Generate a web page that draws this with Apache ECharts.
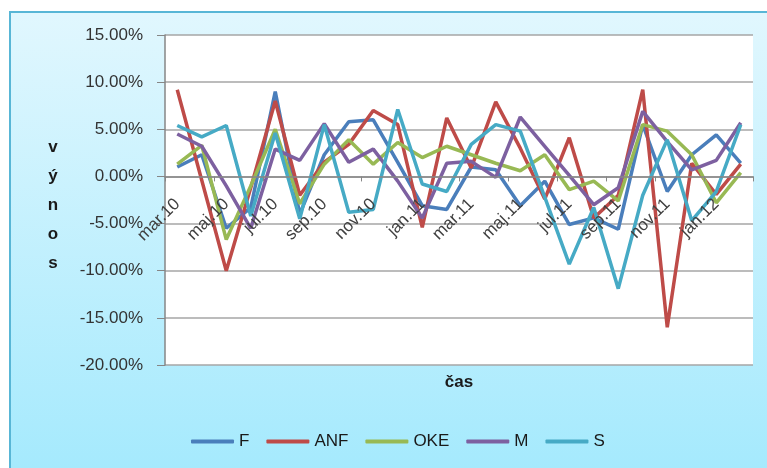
<!DOCTYPE html>
<html>
<head>
<meta charset="utf-8">
<script src="https://cdn.jsdelivr.net/npm/echarts@6/dist/echarts.min.js"></script>
<style>html,body{margin:0;padding:0;background:#fff;}#c{width:767px;height:468px;}</style>
</head>
<body>
<div id="c"></div>
<script>
const categories = ['mar.10','apr.10','maj.10','jún.10','jul.10','aug.10','sep.10','okt.10','nov.10','dec.10','jan.11','feb.11','mar.11','apr.11','maj.11','jún.11','jul.11','aug.11','sep.11','okt.11','nov.11','dec.11','jan.12','feb.12'];
const seriesNames = ['F','ANF','OKE','M','S'];
const F   = [1.0, 2.3, -5.5, -3.3, 9.0, -4.0, 2.3, 5.8, 6.0, 1.5, -3.1, -3.5, 1.0, 0.7, -3.1, -0.5, -5.1, -4.4, -5.6, 5.5, -1.6, 2.3, 4.4, 1.4];
const ANF = [9.2, -0.4, -10.0, -1.2, 8.0, -2.0, 1.5, 3.4, 7.0, 5.5, -5.4, 6.2, 0.9, 7.9, 3.0, -2.4, 4.1, -4.4, -2.0, 9.2, -16.0, 1.4, -1.9, 1.3];
const OKE = [1.3, 3.3, -6.7, -1.0, 5.0, -2.9, 1.3, 3.9, 1.3, 3.6, 2.0, 3.2, 2.3, 1.4, 0.6, 2.3, -1.4, -0.5, -2.6, 5.5, 4.8, 2.3, -2.8, 0.4];
const M   = [4.5, 3.2, -1.0, -5.5, 2.9, 1.7, 5.6, 1.5, 2.9, -0.5, -4.4, 1.4, 1.6, -0.1, 6.3, 3.2, 0.1, -3.0, -1.2, 6.9, 3.7, 0.7, 1.7, 5.7];
const S   = [5.4, 4.2, 5.4, -4.2, 4.6, -4.5, 5.5, -3.8, -3.5, 7.1, -0.8, -1.6, 3.4, 5.5, 4.8, -2.2, -9.3, -3.3, -11.9, -2.0, 3.9, -4.7, -1.6, 5.5];
const colors = ['#4a7ebb','#be4b48','#98b954','#7d60a0','#46aac5'];
const yMin = -20, yMax = 15, yStep = 5;
const yTitle = 'v\ný\nn\no\ns';
const xTitle = 'čas';

const gridTop = 35, gridBottom = 103, chartH = 468;
const plotH = chartH - gridTop - gridBottom;
const zeroOffset = -plotH * (0 - yMin) / (yMax - yMin);

const chart = echarts.init(document.getElementById('c'));
const font = '"Liberation Sans", Arial, sans-serif';
chart.setOption({
  animation: false,
  textStyle: { fontFamily: font },
  color: colors,
  graphic: [
    { type: 'rect', z: -100, shape: { x: 10, y: 12, width: 780, height: 480 },
      style: { fill: new echarts.graphic.LinearGradient(0, 0, 0, 1, [
        { offset: 0, color: '#e1f7fe' }, { offset: 1, color: '#a2e9fd' }]),
        stroke: '#58b6d6', lineWidth: 2 } },
    { type: 'text', x: 459, y: 374, z: 10,
      style: { text: xTitle, font: 'bold 17px "Liberation Sans", Arial, sans-serif', fill: '#1a1a1a', textAlign: 'center' } },
    { type: 'text', x: 53, y: 205, z: 10,
      style: { text: yTitle, font: 'bold 17px "Liberation Sans", Arial, sans-serif', fill: '#1a1a1a',
               textAlign: 'center', textVerticalAlign: 'middle', lineHeight: 29 } }
  ],
  grid: { left: 165, right: 14, top: gridTop, bottom: gridBottom, show: true, backgroundColor: '#ffffff', borderWidth: 0 },
  legend: {
    data: seriesNames, left: 191, top: 433, icon: 'roundRect', itemWidth: 43, itemHeight: 4, itemGap: 17, padding: 0,
    textStyle: { fontSize: 17, color: '#1a1a1a', fontFamily: font }
  },
  xAxis: {
    type: 'category', data: categories, boundaryGap: true, position: 'bottom', offset: zeroOffset, zlevel: 1, z: 10,
    axisLine: { onZero: false, lineStyle: { color: '#868686', width: 1.5 } },
    axisTick: { show: true, interval: 1, length: 5, lineStyle: { color: '#868686' } },
    axisLabel: { interval: 1, rotate: 45, fontSize: 17, color: '#404040', margin: 25 },
    splitLine: { show: false }
  },
  yAxis: {
    type: 'value', min: yMin, max: yMax, interval: yStep,
    axisLine: { show: true, lineStyle: { color: '#868686', width: 1.5 } },
    axisTick: { show: true, length: 8, lineStyle: { color: '#868686' } },
    axisLabel: { fontSize: 17, color: '#333', margin: 22, formatter: v => v.toFixed(2) + '%' },
    splitLine: { show: true, lineStyle: { color: '#a6a6a6', width: 1.5 } }
  },
  series: [F, ANF, OKE, M, S].map((d, i) => ({
    name: seriesNames[i], type: 'line', data: d, symbol: 'none', smooth: false,
    lineStyle: { width: 3.5, color: colors[i] }
  }))
});
</script>
</body>
</html>
